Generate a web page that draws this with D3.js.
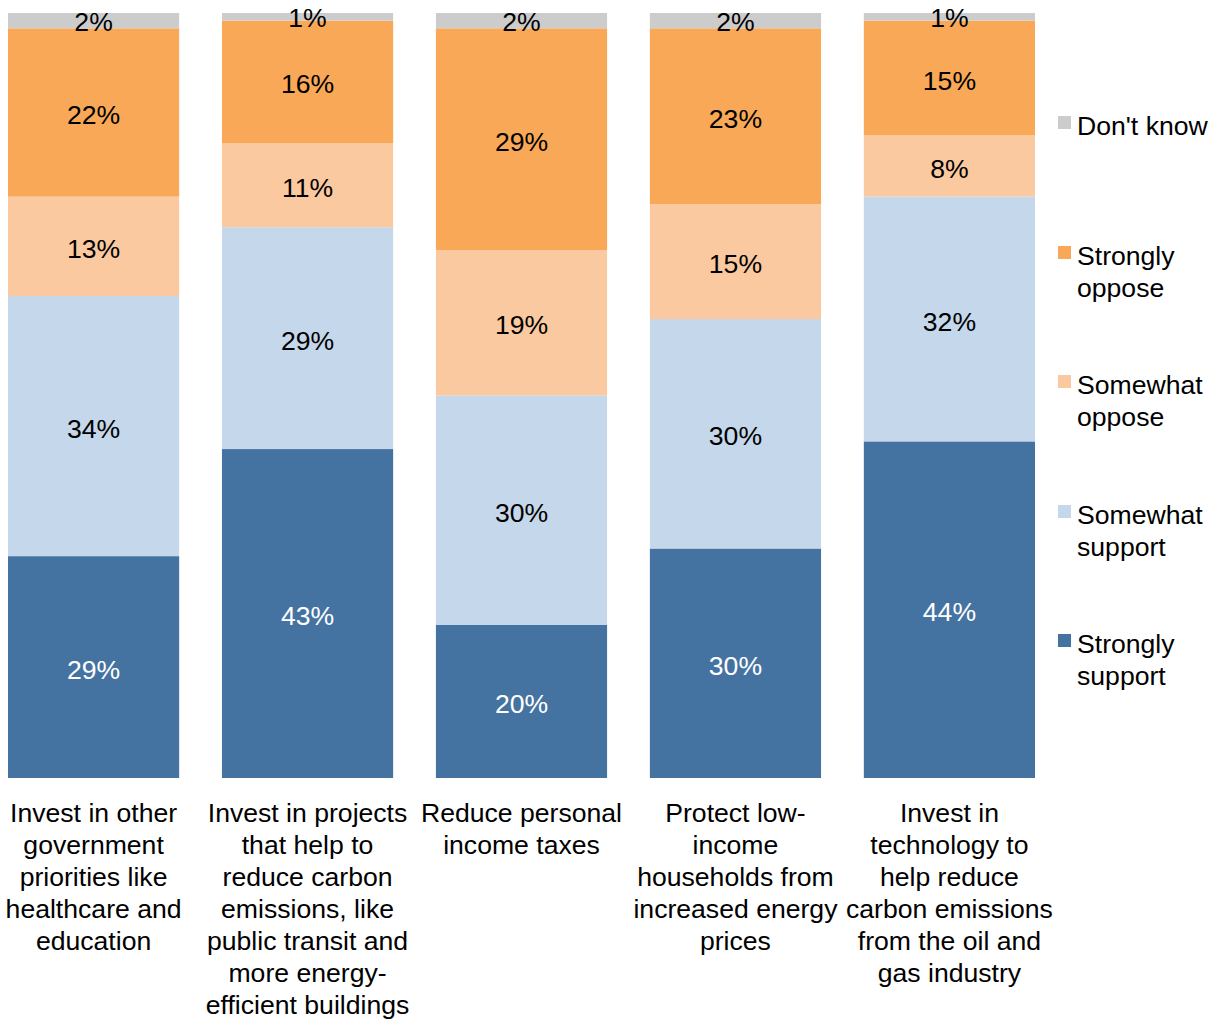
<!DOCTYPE html>
<html>
<head>
<meta charset="utf-8">
<script src="https://cdn.jsdelivr.net/npm/d3@7"></script>
<style>
  body{margin:0;background:#fff;}
  svg text{font-family:"Liberation Sans", Arial, sans-serif;}
</style>
</head>
<body>
<div id="chart"></div>
<script>
// stacked support/oppose bars — one column per policy option
const categories = ['c1','c2','c3','c4','c5'];
const catLabels = [
  ['Invest in other','government','priorities like','healthcare and','education'],
  ['Invest in projects','that help to','reduce carbon','emissions, like','public transit and','more energy-','efficient buildings'],
  ['Reduce personal','income taxes'],
  ['Protect low-','income','households from','increased energy','prices'],
  ['Invest in','technology to','help reduce','carbon emissions','from the oil and','gas industry']
];
const seriesNames = ['Strongly support','Somewhat support','Somewhat oppose','Strongly oppose',"Don't know"];
const stronglySupport = [29, 43, 20, 30, 44];
const somewhatSupport = [34, 29, 30, 30, 32];
const somewhatOppose  = [13, 11, 19, 15, 8];
const stronglyOppose  = [22, 16, 29, 23, 15];
const dontKnow        = [2, 1, 2, 2, 1];
const colors = ['#4573a1','#c5d7ea','#fbc9a0','#f9a857','#cccccc'];

const W = 1215, H = 1019, FS = 26.6;
const svg = d3.select('#chart').append('svg').attr('width', W).attr('height', H);

const rows = categories.map((c,i)=>({
  cat:c,
  s0:stronglySupport[i], s1:somewhatSupport[i], s2:somewhatOppose[i], s3:stronglyOppose[i], s4:dontKnow[i]
}));
const keys = ['s0','s1','s2','s3','s4'];
const stack = d3.stack().keys(keys)(rows);

const x = d3.scaleBand().domain(categories).range([8, 1035]).paddingInner(0.2).paddingOuter(0);
const y = d3.scaleLinear().domain([0, 100]).range([778, 13]);

stack.forEach((layer, k)=>{
  const g = svg.append('g');
  g.selectAll('rect').data(layer).join('rect')
    .attr('x', d=>x(d.data.cat)).attr('width', x.bandwidth())
    .attr('y', d=>y(d[1])).attr('height', d=>y(d[0])-y(d[1]))
    .attr('fill', colors[k]);
  g.selectAll('text').data(layer).join('text')
    .attr('x', d=>x(d.data.cat)+x.bandwidth()/2)
    .attr('y', d=>(y(d[0])+y(d[1]))/2 + (k===4 ? 1 : 2))
    .attr('dy', '0.36em')
    .attr('text-anchor','middle').attr('font-size', FS)
    .attr('fill', k===0 ? '#ffffff' : '#000000')
    .text(d=>(d[1]-d[0])+'%');
});

// category labels
categories.forEach((c,i)=>{
  const t = svg.append('text').attr('text-anchor','middle').attr('font-size',FS).attr('fill','#000');
  catLabels[i].forEach((ln,j)=>{
    t.append('tspan').attr('x', x(c)+x.bandwidth()/2).attr('y', 822 + j*32).text(ln);
  });
});

// legend
const legend = [
  {k:4, lines:["Don't know"], y:125},
  {k:3, lines:['Strongly','oppose'], y:255},
  {k:2, lines:['Somewhat','oppose'], y:384},
  {k:1, lines:['Somewhat','support'], y:514},
  {k:0, lines:['Strongly','support'], y:643}
];
legend.forEach(it=>{
  svg.append('rect').attr('x',1058).attr('y',it.y-9).attr('width',13).attr('height',13).attr('fill',colors[it.k]);
  const t = svg.append('text').attr('font-size',FS).attr('fill','#000');
  it.lines.forEach((ln,j)=>{
    t.append('tspan').attr('x',1077).attr('y',it.y + j*32).attr('dy','0.36em').text(ln);
  });
});
</script>
</body>
</html>
